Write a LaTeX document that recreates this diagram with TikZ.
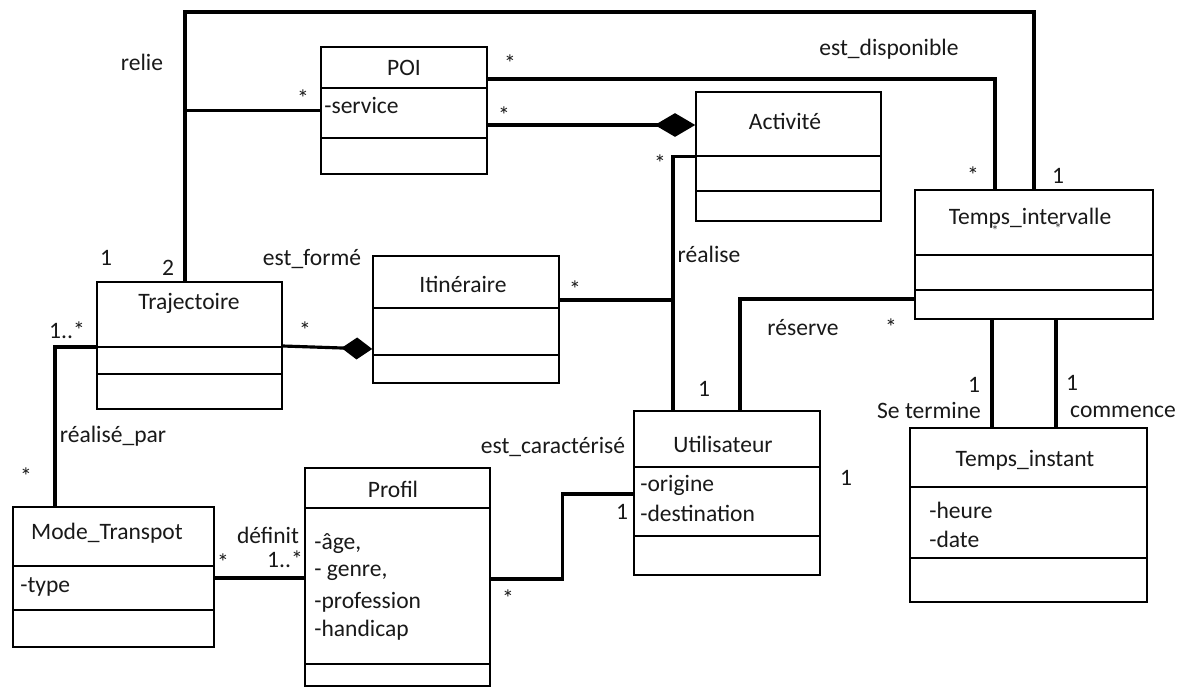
\documentclass[tikz,border=0pt]{standalone}
\usepackage{fontspec}
\setmainfont{Carlito}
\usetikzlibrary{arrows.meta,fit}

\tikzset{
  classbox/.style={draw,line width=0.9pt,inner sep=0pt},
  sepline/.style={line width=0.9pt},
  assoc/.style={line width=1.8pt},
  compo/.style={assoc,-{Diamond[length=23pt,width=13.5pt]}},
  compos/.style={assoc,-{Diamond[length=17.5pt,width=12.5pt]}},
  lbl/.style={font=\fontsize{13.4}{16}\selectfont,inner sep=0pt,text=black!90},
  attr/.style={lbl,anchor=west},
  tiny/.style={font=\fontsize{8}{9}\selectfont,inner sep=0pt,text=black!80},
}

\begin{document}
\begin{tikzpicture}[x=0.02cm,y=-0.02cm]
\useasboundingbox[fill=white] (0,0) rectangle (1186,687);
%% classes
\node[classbox,fit={(321,47)(487,174)}] (poi) {};
\node[classbox,fit={(696,92)(881,221)}] (act) {};
\node[classbox,fit={(915,190)(1153,319)}] (ti) {};
\node[classbox,fit={(97,282)(282,409)}] (traj) {};
\node[classbox,fit={(373,256)(559,383)}] (itin) {};
\node[classbox,fit={(634,411)(820,575)}] (util) {};
\node[classbox,fit={(910,428)(1147,602)}] (tinst) {};
\node[classbox,fit={(13,507)(214,647)}] (mt) {};
\node[classbox,fit={(305,468)(490,686)}] (prof) {};
\draw[sepline] (poi.west |- 0,88) -- (poi.east |- 0,88) (poi.west |- 0,138) -- (poi.east |- 0,138)
(act.west |- 0,156) -- (act.east |- 0,156) (act.west |- 0,191) -- (act.east |- 0,191)
(ti.west |- 0,255) -- (ti.east |- 0,255) (ti.west |- 0,290) -- (ti.east |- 0,290)
(traj.west |- 0,347) -- (traj.east |- 0,347) (traj.west |- 0,374) -- (traj.east |- 0,374)
(itin.west |- 0,308) -- (itin.east |- 0,308) (itin.west |- 0,355) -- (itin.east |- 0,355)
(util.west |- 0,467) -- (util.east |- 0,467) (util.west |- 0,536) -- (util.east |- 0,536)
(tinst.west |- 0,487) -- (tinst.east |- 0,487) (tinst.west |- 0,558) -- (tinst.east |- 0,558)
(mt.west |- 0,566) -- (mt.east |- 0,566) (mt.west |- 0,610) -- (mt.east |- 0,610)
(prof.west |- 0,508) -- (prof.east |- 0,508) (prof.west |- 0,664) -- (prof.east |- 0,664);
%% class names and attributes
\node[lbl] (poiname) at (404,68) {POI};
\node[attr] (poiatt) at (324,105) {-service};
\node[lbl] (actname) at (785,121) {Activité};
\node[lbl] (tiname) at (1030,218) {Temps\_intervalle};
\node[tiny] (tistar1) at (995,231) {*};
\node[tiny] (tistar2) at (1058,229) {*};
\node[lbl] (trajname) at (189,303) {Trajectoire};
\node[lbl] (itinname) at (463,284) {Itinéraire};
\node[lbl] (utilname) at (723,444) {Utilisateur};
\node[attr] (utilatt1) at (640,485) {-origine};
\node[attr] (utilatt2) at (640,513) {-destination};
\node[lbl] (tinstname) at (1025,460) {Temps\_instant};
\node[attr] (tinstatt1) at (929,510) {-heure};
\node[attr] (tinstatt2) at (929,539) {-date};
\node[lbl] (mtname) at (107,533) {Mode\_Transpot};
\node[attr] (mtatt) at (20,587) {-type};
\node[lbl] (profname) at (393,489) {Profil};
\node[attr] (profatt1) at (314,544) {-âge,};
\node[attr] (profatt2) at (314,573) {- genre,};
\node[attr] (profatt3) at (314,602) {-profession};
\node[attr] (profatt4) at (314,630) {-handicap};
%% associations
\coordinate (relieTop) at (185,12);
\coordinate (realJ) at (673,300);
\draw[assoc] (traj.north -| relieTop) -- (relieTop) -| (ti.north);
\draw[assoc] (poi.west) -- (poi.west -| relieTop);
\draw[assoc] (poi.east |- 0,79) -| (ti.north -| 995,0);
\draw[compo] (poi.east |- 0,125) -- (act.west |- 0,125);
\draw[assoc] (act.west) -| (util.north -| realJ);
\draw[assoc] (itin.east |- realJ) -- (realJ);
\draw[compos] (traj.east |- 0,346) -- (itin.west |- 0,349);
\draw[assoc] (traj.west |- 0,347) -| (mt.north -| 55,0);
\draw[assoc] (mt.east |- 0,578) -- (prof.west |- 0,578);
\draw[assoc] (prof.east |- 0,579) -- ++(72,0) |- (util.west |- 0,494);
\draw[assoc] (ti.west |- 0,299) -| (util.north -| 740,0);
\draw[assoc] (ti.south -| 992,0) -- (tinst.north -| 992,0);
\draw[assoc] (ti.south -| 1056,0) -- (tinst.north -| 1056,0);
%% association names
\node[lbl] (relie) at (142,62) {relie};
\node[lbl] (dispo) at (889,49) {est\_disponible};
\node[lbl] (forme) at (312,259) {est\_formé};
\node[lbl] (realise) at (709,254) {réalise};
\node[lbl] (realpar) at (113,436) {réalisé\_par};
\node[lbl] (definit) at (268,535) {définit};
\node[lbl] (caract) at (553,447) {est\_caractérisé};
\node[lbl] (reserve) at (803,328) {réserve};
\node[lbl] (termine) at (929,410) {Se termine};
\node[lbl] (commence) at (1123,412) {commence};
%% multiplicities
\node[lbl] (m1) at (106,258) {1};
\node[lbl] (m2) at (168,268) {2};
\node[lbl] (m3) at (303,98) {*};
\node[lbl] (m4) at (510,63) {*};
\node[lbl] (m5) at (504,115) {*};
\node[lbl] (m6) at (973,175) {*};
\node[lbl] (m7) at (1058,176) {1};
\node[lbl] (m8) at (660,163) {*};
\node[lbl] (m9) at (575,289) {*};
\node[lbl] (m10) at (305,330) {*};
\node[lbl] (m11) at (67,330) {1..*};
\node[lbl] (m12) at (26,476) {*};
\node[lbl] (m13) at (223,562) {*};
\node[lbl] (m14) at (285,559) {1..*};
\node[lbl] (m15) at (508,598) {*};
\node[lbl] (m16) at (622,512) {1};
\node[lbl] (m17) at (704,389) {1};
\node[lbl] (m18) at (846,478) {1};
\node[lbl] (m19) at (891,327) {*};
\node[lbl] (m20) at (974,385) {1};
\node[lbl] (m21) at (1072,383) {1};
\end{tikzpicture}
\end{document}
